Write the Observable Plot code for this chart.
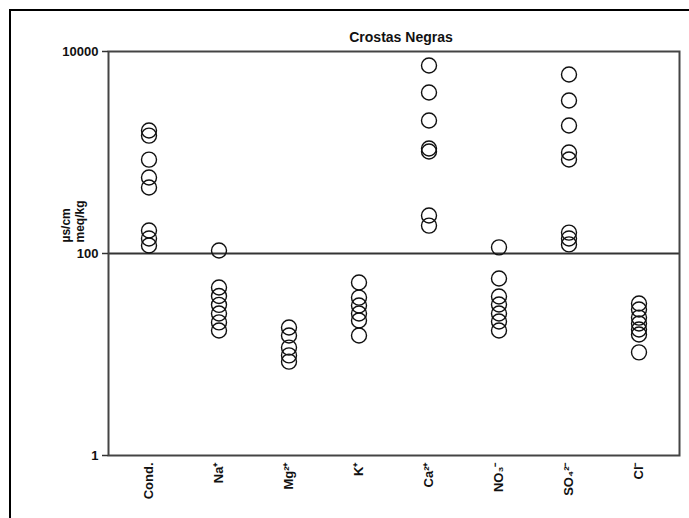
<!DOCTYPE html>
<html><head><meta charset="utf-8">
<script src="https://cdn.jsdelivr.net/npm/d3@7"></script>
<script src="https://cdn.jsdelivr.net/npm/@observablehq/plot@0.6"></script>
<style>
body{margin:0;background:#fff;}
#wrap{position:relative;width:689px;height:518px;overflow:hidden;}
#border{position:absolute;left:9px;top:9px;width:720px;height:600px;border-left:2px solid #000;border-top:2px solid #000;pointer-events:none;}
#chart svg{display:block;}
</style></head><body>
<div id="wrap"><div id="chart"></div><div id="border"></div></div>
<script>
const categories = ["Cond.", "Na⁺", "Mg²⁺", "K⁺", "Ca²⁺", "NO₃⁻", "SO₄²⁻", "Cl⁻"];
const condValues = [1650, 1470, 850, 565, 450, 169, 141, 120];
const naValues = [107, 46, 38, 31, 25.5, 20.8, 17.3];
const mgValues = [18.5, 15.4, 11.7, 9.8, 8.5];
const kValues = [51.6, 36.6, 30.6, 25.5, 21.7, 15.4];
const caValues = [7270, 3930, 2075, 1096, 1023, 238, 189];
const no3Values = [115, 56.5, 37.5, 31.3, 25.5, 21.2, 17.3];
const so4Values = [5920, 3270, 1850, 1000, 853, 161, 141, 123];
const clValues = [32, 27.9, 23.2, 20.3, 17.7, 15.8, 10.5];
const yTicks = [1, 100, 10000];
const chartTitle = "Crostas Negras";
const yTitle = "µs/cm\nmeq/kg";

const series = [condValues, naValues, mgValues, kValues, caValues, no3Values, so4Values, clValues];
const data = series.flatMap((vals, i) => vals.map(v => ({cat: categories[i], value: v})));

const plot = Plot.plot({
  width: 689,
  height: 518,
  marginLeft: 108,
  marginRight: 10,
  marginTop: 51,
  marginBottom: 63,
  style: {fontFamily: "'Liberation Sans', Arial, sans-serif", fontSize: "13px", fontWeight: "bold", color: "#111", background: "transparent"},
  x: {type: "band", domain: categories, label: null},
  y: {type: "log", domain: [1, 10000], label: null},
  marks: [
    Plot.ruleY([100], {stroke: "#333", strokeWidth: 2}),
    Plot.frame({stroke: "#444", strokeWidth: 2}),
    Plot.axisY({ticks: yTicks, tickFormat: d3.format("d"), tickSize: 6, tickPadding: 4, stroke: "#333", strokeWidth: 1.5, label: null, fontWeight: "bold", fontSize: 13}),
    Plot.axisX({tickRotate: -90, tickSize: 0, tickPadding: 7, label: null, fontWeight: "bold", fontSize: 13}),
    Plot.dot(data, {x: "cat", y: "value", r: 7.5, stroke: "#111", strokeWidth: 1.4, fill: "none"}),
    Plot.text([chartTitle], {frameAnchor: "top", dx: 7, dy: -19, fontWeight: "bold", fontSize: 14}),
    Plot.text([yTitle], {frameAnchor: "left", rotate: -90, dx: -36, dy: -11, lineHeight: 1.15, fontWeight: "bold", fontSize: 12})
  ]
});
document.getElementById("chart").appendChild(plot);
</script>
</body></html>
